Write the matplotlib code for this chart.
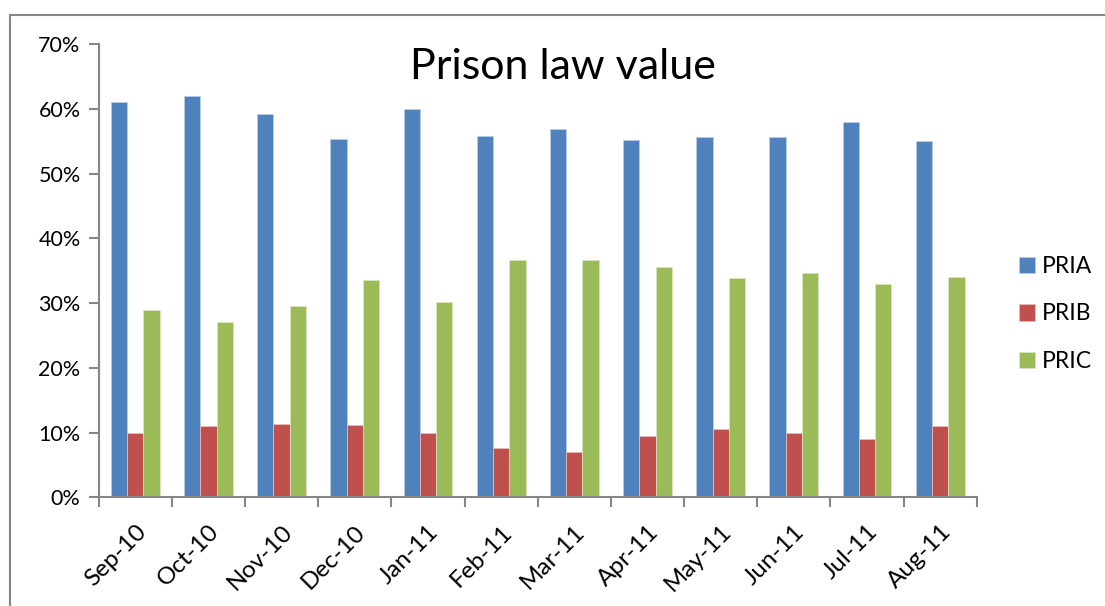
import numpy as np
import matplotlib
matplotlib.use('Agg')
import matplotlib.pyplot as plt
from matplotlib.patches import Rectangle
from matplotlib.ticker import FuncFormatter, FixedLocator

plt.rcParams['font.family'] = ['Lato', 'DejaVu Sans']

# 1 - Data (in %)
months = ['Sep-10', 'Oct-10', 'Nov-10', 'Dec-10', 'Jan-11', 'Feb-11',
          'Mar-11', 'Apr-11', 'May-11', 'Jun-11', 'Jul-11', 'Aug-11']
pria = [61.0, 62.0, 59.2, 55.3, 60.0, 55.8, 56.8, 55.1, 55.7, 55.6, 58.0, 55.0]
prib = [10.0, 11.0, 11.3, 11.2, 9.9, 7.6, 7.0, 9.5, 10.6, 9.9, 9.0, 11.0]
pric = [29.0, 27.0, 29.6, 33.5, 30.2, 36.7, 36.7, 35.5, 33.8, 34.7, 33.0, 34.0]
series = ['PRIA', 'PRIB', 'PRIC']
colours = ['#4F81BD', '#C0504D', '#9BBB59']
edges = ['#B9CDE5', '#E6B9B8', '#D7E4BD']

# 2 - Plot
W, H = 1105, 606
fig = plt.figure(figsize=(W/100, H/100), dpi=100)
ax = fig.add_axes([98.6/W, 108.7/H, (976.8-98.6)/W, (497.3-44)/H])

# chart border (Excel chart area)
fig.patches.append(Rectangle((9.6/W, -0.05), 1.1, 1-15/H+0.05,
                             transform=fig.transFigure, fill=False,
                             edgecolor='#868686', linewidth=1.5))

x = np.arange(len(months))
w = 1/4.5
for i, (vals, c, e, name) in enumerate(zip([pria, prib, pric], colours, edges, series)):
    ax.bar(x + (i-1)*w, vals, width=w, color=c, edgecolor=e, linewidth=0.6, label=name)

ax.set_xlim(-0.5, len(months)-0.5)
ax.set_ylim(0, 70)
ax.set_yticks(np.arange(0, 71, 10))
ax.yaxis.set_major_formatter(FuncFormatter(lambda v, p: f'{int(v)}%'))
ax.set_xticks(x)
ax.set_xticklabels(months, rotation=45, ha='right', rotation_mode='anchor')
ax.xaxis.set_minor_locator(FixedLocator(np.arange(-0.5, len(months), 1)))
ax.tick_params(axis='x', which='major', length=0, pad=17, labelsize=17.5)
ax.tick_params(axis='x', which='minor', length=7, width=1.5, color='#868686', direction='out')
ax.tick_params(axis='y', length=7, width=1.5, color='#868686', labelsize=15.5, pad=6)
for s in ['top', 'right']:
    ax.spines[s].set_visible(False)
for s in ['left', 'bottom']:
    ax.spines[s].set_color('#868686')
    ax.spines[s].set_linewidth(1.5)

fig.text(563/W, 1-67/H, 'Prison law value', fontsize=31, ha='center', va='center')

leg = ax.legend(loc='center left', bbox_to_anchor=((1019-98.6)/878.2, 1-(314-44)/453.3),
                frameon=False, borderpad=0, borderaxespad=0,
                fontsize=16.5, handlelength=0.7, handleheight=0.7,
                handletextpad=0.3, labelspacing=1.15)

plt.savefig('out.png', dpi=100, facecolor='w')
